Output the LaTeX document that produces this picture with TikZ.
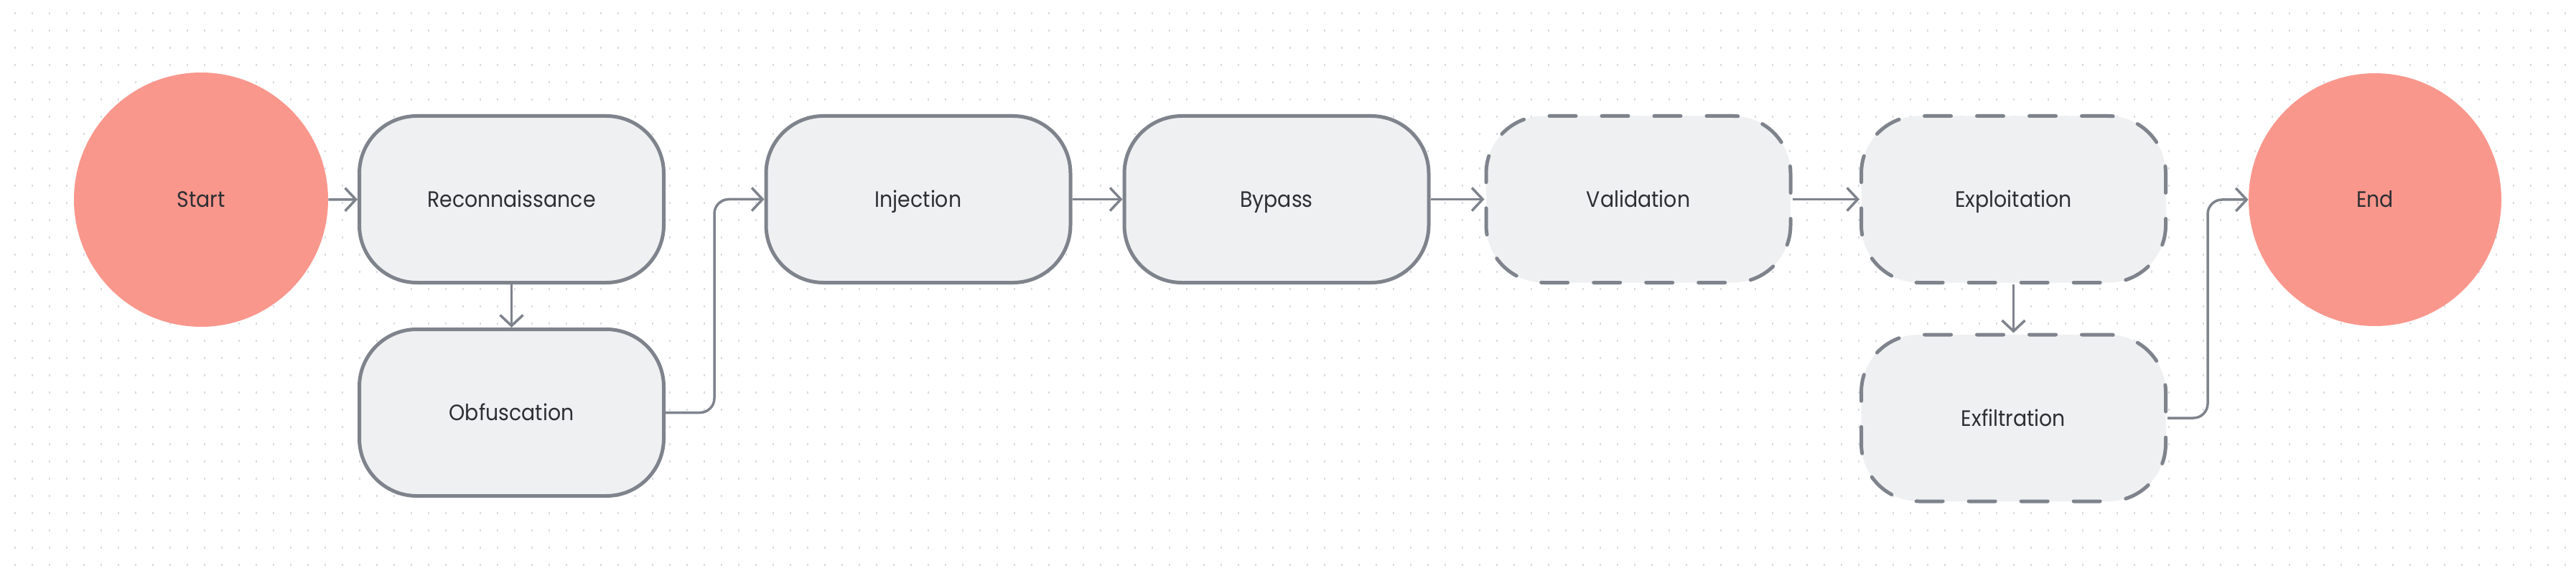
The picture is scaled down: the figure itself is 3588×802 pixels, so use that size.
\documentclass[tikz,border=0pt]{standalone}
\usepackage{fontspec}
\setmainfont{Poppins}[FakeStretch=0.915]
\usetikzlibrary{arrows.meta}
\definecolor{edgec}{HTML}{7E838C}
\definecolor{boxfill}{HTML}{EFF0F2}
\definecolor{salmon}{HTML}{FA978D}
\definecolor{txt}{HTML}{2D2F33}
\definecolor{dotc}{HTML}{D9DBE1}
\tikzset{
  lbl/.style={text=txt, font=\fontsize{15.5}{18}\selectfont, text height=11pt, text depth=0pt},
  stepbox/.style={rectangle, rounded corners=40pt, draw=edgec, line width=2.5pt,
    fill=boxfill, minimum width=212pt, minimum height=116pt, inner sep=0pt, lbl},
  dashbox/.style={stepbox, dash pattern=on 18.5pt off 18pt, line cap=round},
  term/.style={circle, fill=salmon, minimum size=177pt, inner sep=0pt, lbl},
  conn/.style={draw=edgec, line width=1.75pt, rounded corners=10pt,
    -{Straight Barb[length=7.5pt,width=16pt,line width=1.75pt]}},
}
\begin{document}
\begin{tikzpicture}[x=0.5pt,y=-0.5pt]
\fill[white] (0,0) rectangle (3588,802);
\useasboundingbox (0,0) rectangle (3588,802);
% dot grid
\foreach \j in {0,...,32} {
  \draw[dotc, line width=1.3pt, dash pattern=on 1.3pt off 10.7pt]
    (19.7,18.5+24*\j) -- (3588,18.5+24*\j);
}
% nodes
\node[term] (start) at (280,278) {Start};
\node[stepbox] (rec) at (712.5,277.5) {Reconnaissance};
\node[stepbox] (obf) at (712.5,574.5) {Obfuscation};
\node[stepbox] (inj) at (1279,277.5) {Injection};
\node[stepbox] (byp) at (1778,277.5) {Bypass};
\node[dashbox] (val) at (2282,277.5) {Validation};
\node[dashbox] (exp) at (2804.5,277.5) {Exploitation};
\node[dashbox] (exf) at (2804.5,582) {Exfiltration};
\node[term, minimum size=176pt] (end) at (3308,278) {End};
% connectors
\draw[conn] (start) -- (rec);
\draw[conn] (rec) -- (obf);
\draw[conn] (obf.east) -- ++(68,0) |- (inj.west);
\draw[conn] (inj) -- (byp);
\draw[conn] (byp) -- (val);
\draw[conn] (val) -- (exp);
\draw[conn] (exp) -- (exf);
\draw[conn] (exf.east) -- ++(56,0) |- (end.west);
\end{tikzpicture}
\end{document}
